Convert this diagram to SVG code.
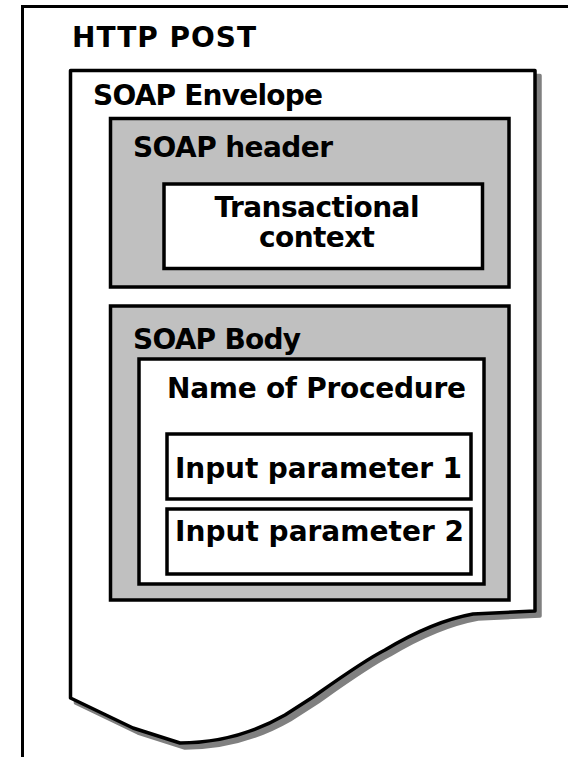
<svg xmlns="http://www.w3.org/2000/svg" width="568" height="757" viewBox="0 0 568 757">
<style>
text{font-family:"DejaVu Sans","Liberation Sans",sans-serif;font-weight:bold;font-size:28px;fill:#000}
.box{fill:#fff;stroke:#000;stroke-width:3.5}
.grey{fill:#c0c0c0;stroke:#000;stroke-width:3.5}
.shadow{fill:#808080;stroke:#808080;stroke-width:3.5;stroke-linejoin:round}
</style>
<rect width="568" height="757" fill="#fff"/>
<g id="http-post">
<path d="M22.5,757 V6.5 H568" fill="none" stroke="#000" stroke-width="3"/>
<text x="72" y="47" font-size="30" textLength="184">HTTP POST</text>
</g>
<g id="soap-envelope">
<path class="shadow" transform="translate(5,5)" d="M70.5,70.5 H535 V611 L473,614 C440,620 405,638 385,650 C365,660 340,678 313,697 L285,715 C250,735 215,743 180,743 L133,728 L70.5,698 Z"/>
<path d="M70.5,70.5 H535 V611 L473,614 C440,620 405,638 385,650 C365,660 340,678 313,697 L285,715 C250,735 215,743 180,743 L133,728 L70.5,698 Z" fill="#fff" stroke="#000" stroke-width="3.5" stroke-linejoin="round"/>
<text x="93" y="105" textLength="230">SOAP Envelope</text>
</g>
<g id="soap-header">
<rect class="grey" x="110.5" y="118.5" width="398.5" height="168.5"/>
<text x="133" y="157" textLength="200">SOAP header</text>
</g>
<g id="transactional-context">
<rect class="box" x="164" y="184" width="318.5" height="84.5"/>
<text x="317" y="217" text-anchor="middle" textLength="205">Transactional</text>
<text x="317" y="247" text-anchor="middle" textLength="116">context</text>
</g>
<g id="soap-body">
<rect class="grey" x="110.5" y="306" width="398.5" height="294"/>
</g>
<g id="procedure">
<rect class="box" x="139" y="359" width="345" height="225"/>
<text x="167" y="398" textLength="299">Name of Procedure</text>
</g>
<g id="soap-body-label">
<text x="133" y="349" textLength="168">SOAP Body</text>
</g>
<g id="input-parameter-1">
<rect class="box" x="167" y="434" width="304" height="65"/>
<text x="175" y="478" textLength="287">Input parameter 1</text>
</g>
<g id="input-parameter-2">
<rect class="box" x="167" y="509" width="304" height="65"/>
<text x="175" y="541" textLength="289">Input parameter 2</text>
</g>
<g id="connectors"></g>
</svg>
